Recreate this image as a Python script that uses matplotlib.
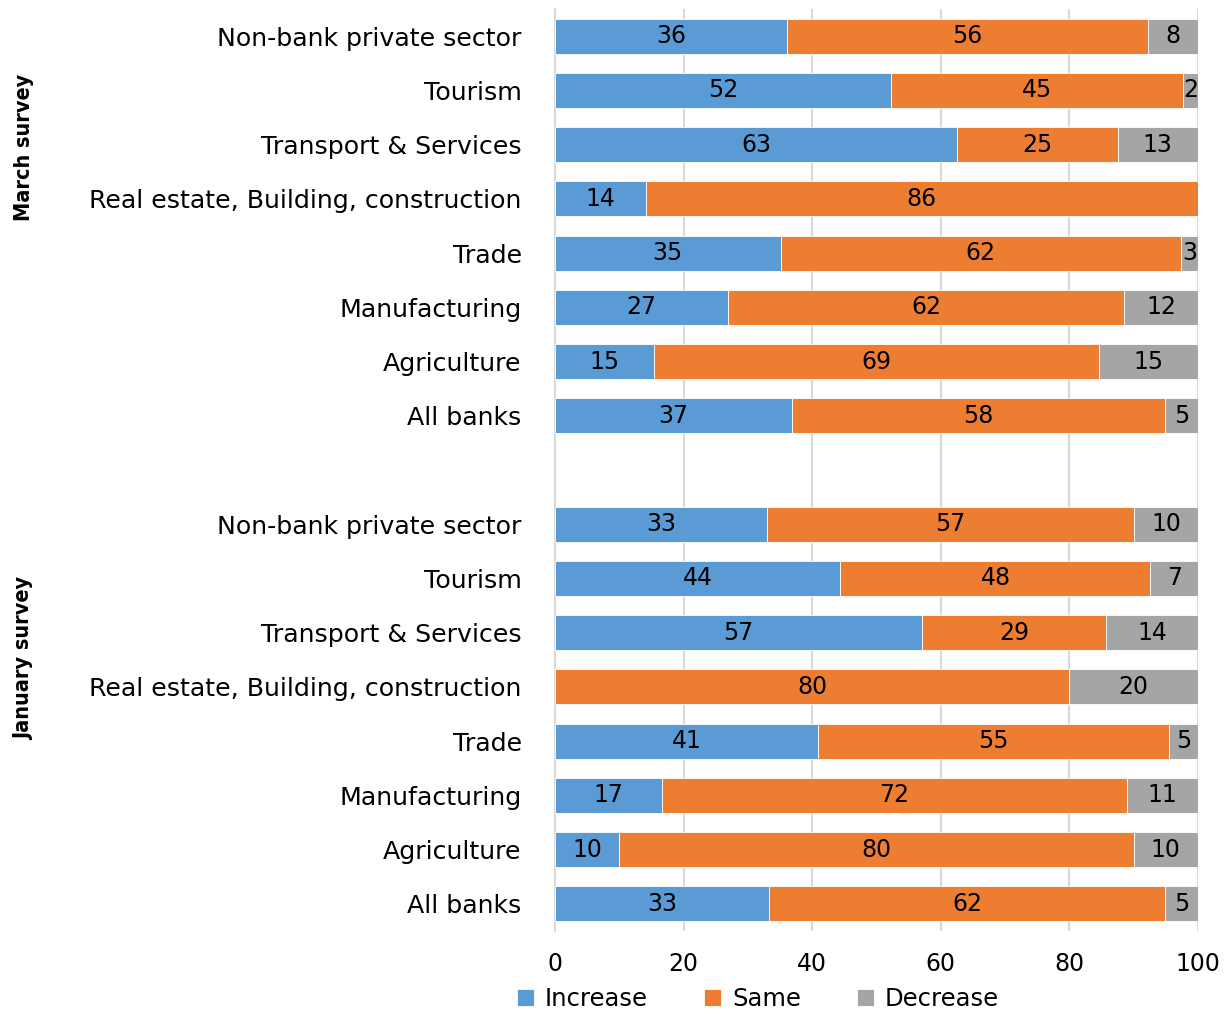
import numpy as np
from matplotlib import pyplot as plt

sectors = ['Non-bank private sector', 'Tourism', 'Transport & Services',
           'Real estate, Building, construction', 'Trade', 'Manufacturing',
           'Agriculture', 'All banks']
series = ['Increase', 'Same', 'Decrease']
colors = ['#5B9BD5', '#ED7D31', '#A5A5A5']

# shares in percent, rows ordered top to bottom
inc_mar = [36.1, 52.3, 62.5, 14.1, 35.1, 26.9, 15.4, 36.8]
same_mar = [56.1, 45.4, 25.0, 85.9, 62.2, 61.6, 69.2, 58.0]
dec_mar = [7.8, 2.3, 12.5, 0.0, 2.7, 11.5, 15.4, 5.2]

inc_jan = [32.9, 44.4, 57.1, 0.0, 40.9, 16.6, 10.0, 33.3]
same_jan = [57.2, 48.2, 28.6, 80.0, 54.6, 72.4, 80.0, 61.6]
dec_jan = [9.9, 7.4, 14.3, 20.0, 4.5, 11.0, 10.0, 5.1]

xticks = [0, 20, 40, 60, 80, 100]

plt.rcParams['font.family'] = ['DejaVu Sans']

n = len(sectors)
y_mar = np.arange(n)
y_jan = np.arange(n) + n + 1

fig = plt.figure(figsize=(12.32, 10.13), dpi=100)
ax = fig.add_axes([555 / 1232, 1 - 931 / 1013, (1198 - 555) / 1232, (931 - 9) / 1013])

def fmt(v):
    return '' if v == 0 else '%d' % np.floor(v + 0.5)

for ys, parts in [(y_mar, [inc_mar, same_mar, dec_mar]), (y_jan, [inc_jan, same_jan, dec_jan])]:
    left = np.zeros(n)
    for k, vals in enumerate(parts):
        vals = np.array(vals)
        bars = ax.barh(ys, vals, left=left, height=0.645, color=colors[k],
                       edgecolor='white', linewidth=0.6,
                       label=series[k] if ys is y_mar else None, zorder=3)
        ax.bar_label(bars, labels=[fmt(v) for v in vals], label_type='center',
                     fontsize=17, color='black')
        left = left + vals

ax.set_xlim(0, 100)
ax.set_ylim(2 * n + 0.5, -0.5)
ax.set_xticks(xticks)
ax.set_xticklabels([str(t) for t in xticks], fontsize=17)
ax.set_yticks(list(y_mar) + list(y_jan))
ax.set_yticklabels(sectors + sectors, fontsize=18.2)
ax.tick_params(axis='x', length=0, pad=15)
ax.tick_params(axis='y', length=0, pad=24)
ax.grid(axis='x', color='#D9D9D9', linewidth=1.5, zorder=0)
ax.set_axisbelow(True)
for s in ['top', 'right', 'bottom']:
    ax.spines[s].set_visible(False)
ax.spines['left'].set_color('#D9D9D9')
ax.spines['left'].set_linewidth(1.5)

# group titles, narrow bold face where one is installed
group_font = dict(rotation=90, ha='center', va='center', fontsize=15.5, fontweight='bold',
                  fontstretch='condensed',
                  family=['Liberation Sans Narrow', 'DejaVu Sans Condensed', 'DejaVu Sans'])
fig.text(24 / 1232, 1 - 147 / 1013, 'March survey', **group_font)
fig.text(24 / 1232, 1 - 658 / 1013, 'January survey', **group_font)

fig.legend(loc='center', bbox_to_anchor=(758 / 1232, 14 / 1013), ncol=3, frameon=False,
           fontsize=17.5, handlelength=0.7, handleheight=0.7, handletextpad=0.45,
           columnspacing=2.3, borderpad=0.1)

fig.savefig('out.png', dpi=100)
